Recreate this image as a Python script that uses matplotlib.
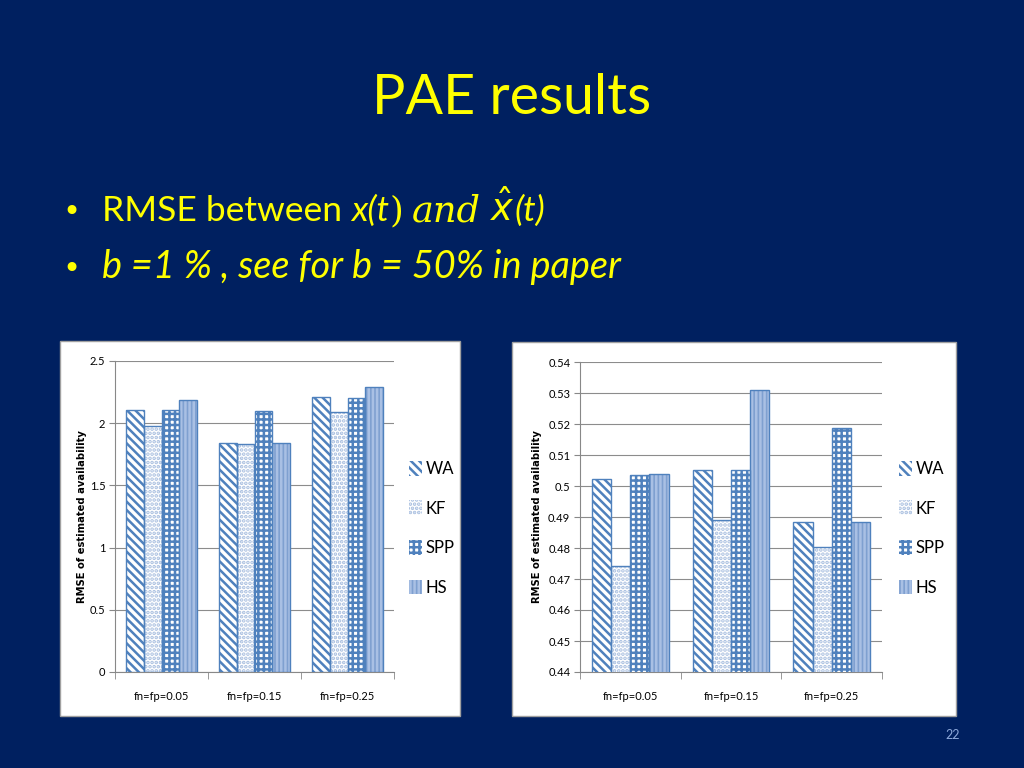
import matplotlib
matplotlib.use("Agg")
import matplotlib.pyplot as plt
from matplotlib.patches import Rectangle, Patch
import numpy as np

categories = ["fn=fp=0.05", "fn=fp=0.15", "fn=fp=0.25"]
series = ["WA", "KF", "SPP", "HS"]
left_values = {
    "WA": [2.11, 1.84, 2.21],
    "KF": [1.98, 1.83, 2.09],
    "SPP": [2.11, 2.10, 2.20],
    "HS": [2.19, 1.84, 2.29],
}
right_values = {
    "WA": [0.5024, 0.5053, 0.4884],
    "KF": [0.4742, 0.4890, 0.4804],
    "SPP": [0.5035, 0.5053, 0.5188],
    "HS": [0.5040, 0.5311, 0.4884],
}
left_ticks = [0, 0.5, 1, 1.5, 2, 2.5]
left_ticklabels = ["0", "0.5", "1", "1.5", "2", "2.5"]
right_ticks = [0.44, 0.45, 0.46, 0.47, 0.48, 0.49, 0.50, 0.51, 0.52, 0.53, 0.54]
right_ticklabels = ["0.44", "0.45", "0.46", "0.47", "0.48", "0.49", "0.5", "0.51", "0.52", "0.53", "0.54"]
ylabel = "RMSE of estimated availability"

BG = "#002060"
YEL = "#FFFF00"
BLUE = "#4F81BD"
FONT = "Lato"

plt.rcParams["hatch.linewidth"] = 1.8

W, H = 1024, 768
fig = plt.figure(figsize=(W / 100, H / 100), dpi=100)
fig.patch.set_facecolor(BG)

def fx(px):
    return px / W

def fy(py):
    return 1 - py / H

# Title
fig.text(fx(512), fy(98), "PAE results", color=YEL, fontsize=40, family=FONT,
         ha="center", va="center")

renderer = fig.canvas.get_renderer()

def seq_text(x0, y0, parts):
    x = x0
    for txt, kw in parts:
        t = fig.text(fx(x), fy(y0), txt, color=YEL, va="baseline", ha="left", **kw)
        bb = t.get_window_extent(renderer=renderer)
        x += bb.width
    return x

FS1 = 25.5
fig.text(fx(62), fy(221), "\u2022", color=YEL, fontsize=22, family="DejaVu Sans", va="baseline")
seq_text(102, 221, [
    ("RMSE between ", dict(fontsize=FS1, family=FONT)),
    ("x(t", dict(fontsize=FS1, family=FONT, style="italic")),
    (")", dict(fontsize=FS1, family="DejaVu Serif")),
    (" ", dict(fontsize=FS1, family=FONT)),
    ("and", dict(fontsize=FS1 + 1, family="DejaVu Serif", style="italic")),
    (" ", dict(fontsize=FS1, family=FONT)),
    (r"$\hat{x}$", dict(fontsize=FS1 + 1)),
    ("(t)", dict(fontsize=FS1, family=FONT, style="italic")),
])
fig.text(fx(62), fy(278), "\u2022", color=YEL, fontsize=22, family="DejaVu Sans", va="baseline")
fig.text(fx(102), fy(278), "b =1 % , see for b = 50% in paper", color=YEL,
         fontsize=27.3, family=FONT, style="italic", va="baseline")

# slide number
fig.text(fx(953), fy(735), "22", color="#8EA9DB", fontsize=9, family=FONT,
         ha="center", va="center")

# chart boxes
fig.patches.append(Rectangle((fx(60), fy(716)), fx(460) - fx(60), fy(341) - fy(716),
                             transform=fig.transFigure, facecolor="white",
                             edgecolor="#A0A0A0", lw=1, zorder=-5))
fig.patches.append(Rectangle((fx(512), fy(716)), fx(956) - fx(512), fy(342) - fy(716),
                             transform=fig.transFigure, facecolor="white",
                             edgecolor="#A0A0A0", lw=1, zorder=-5))

styles = {
    "WA": dict(face="white", hatch="\\\\\\\\", hcolor=BLUE),
    "KF": dict(face="white", hatch="....", hcolor="#A6BDDF"),
    "SPP": dict(face="white", hatch="+++", hcolor=BLUE),
    "HS": dict(face="#7FA0D0", hatch="||||", hcolor="#A9C0E4"),
}

def draw_chart(rect_px, values, ticks, ticklabels, ylim, legend_xy, ylabel_x):
    x0, y0, x1, y1 = rect_px
    ax = fig.add_axes([fx(x0), fy(y1), fx(x1) - fx(x0), fy(y0) - fy(y1)])
    ax.set_facecolor("white")
    x = np.arange(len(categories))
    bw = 0.19
    for i, s in enumerate(series):
        st = styles[s]
        pos = x + (i - 1.5) * bw
        ax.bar(pos, values[s], bw, bottom=0, color=st["face"], edgecolor=st["hcolor"],
               hatch=st["hatch"], linewidth=0, zorder=3)
        ax.bar(pos, values[s], bw, fill=False, edgecolor=BLUE, linewidth=1, zorder=4)
    ax.set_ylim(*ylim)
    ax.set_xlim(-0.5, len(categories) - 0.5)
    ax.set_yticks(ticks)
    ax.set_yticklabels(ticklabels, fontsize=8, family=FONT)
    ax.set_xticks(x)
    ax.set_xticklabels(categories, fontsize=8, family=FONT)
    ax.set_xticks(np.arange(-0.5, len(categories)), minor=True)
    ax.tick_params(axis="x", which="major", length=0, pad=14)
    ax.tick_params(axis="x", which="minor", length=5, color="#888888", direction="out")
    ax.tick_params(axis="y", length=4, color="#888888", direction="out", pad=3)
    ax.yaxis.grid(True, color="#8C8C8C", lw=0.8, zorder=0)
    ax.set_axisbelow(True)
    for sp in ["top", "right"]:
        ax.spines[sp].set_visible(False)
    for sp in ["left", "bottom"]:
        ax.spines[sp].set_color("#888888")
    fig.text(fx(ylabel_x), (fy(y0) + fy(y1)) / 2, ylabel, rotation=90, fontsize=7.2,
             fontweight="bold", family="DejaVu Sans", ha="center", va="center")
    handles = [Patch(facecolor=styles[s]["face"], edgecolor=styles[s]["hcolor"],
                     hatch=styles[s]["hatch"], linewidth=0) for s in series]
    fig.legend(handles, series, loc="upper left",
               bbox_to_anchor=(fx(legend_xy[0]), fy(legend_xy[1])),
               frameon=False, prop=dict(family=FONT, size=12),
               handlelength=0.75, handleheight=1.0, handletextpad=0.25,
               labelspacing=1.4)
    return ax

draw_chart((115, 361, 394, 672), left_values, left_ticks, left_ticklabels, (0, 2.5),
           (394, 446), 82)
draw_chart((580, 362, 882, 672), right_values, right_ticks, right_ticklabels, (0.44, 0.54),
           (884, 446), 537)

fig.savefig("out.png", dpi=100, facecolor=BG)
